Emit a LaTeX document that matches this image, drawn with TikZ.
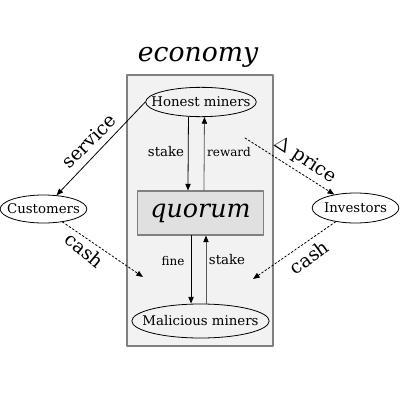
\documentclass[tikz,border=0pt]{standalone}
\usepackage{fontspec}
\setmainfont{DejaVu Serif}
\usetikzlibrary{arrows.meta}
\usetikzlibrary{shapes.geometric}
\definecolor{econfill}{HTML}{F2F2F2}
\definecolor{quorumfill}{HTML}{E0E0E0}
\definecolor{frame}{HTML}{808080}
\begin{document}
\begin{tikzpicture}[line cap=round,line join=round, x=0.75pt,y=-0.75pt,
  actor/.style={ellipse, draw=black, line width=0.6pt, inner sep=0pt, font=\fontsize{10}{12}\selectfont},
  flow/.style={line width=0.6pt, -{Triangle[length=5pt, width=4pt]}},
  backflow/.style={line width=0.6pt, draw=black!65, -{Triangle[length=5pt, width=4pt, color=black]}},
  money/.style={line width=0.6pt, dash pattern=on 1.5pt off 1.5pt, -{Triangle[length=5pt, width=4pt]}},
  bigword/.style={font=\fontsize{14}{16}\selectfont}]
\useasboundingbox (0,0) rectangle (400,400);
\draw [draw=frame, fill=econfill, line width=0.8pt] (127,75) rectangle (273,346);
\node (econ) at (198,57) {\fontsize{20}{24}\selectfont\itshape economy};
\node [rectangle, draw=frame, fill=quorumfill, line width=0.8pt, minimum width=95pt, minimum height=33pt, inner sep=0pt] (quorum) at (200.5,213) {\fontsize{19}{22}\selectfont\itshape quorum};
\node [actor, fill=econfill, minimum width=83pt, minimum height=22pt] (honest) at (201,102) {\makebox[0pt]{Honest miners}};
\node [actor, fill=econfill, minimum width=103pt, minimum height=25.5pt] (malicious) at (200.5,321) {\makebox[0pt]{Malicious miners}};
\node [actor, fill=white, minimum width=65pt, minimum height=21pt] (customers) at (43.5,209) {\makebox[0pt]{Customers}};
\node [actor, fill=white, minimum width=65pt, minimum height=22.5pt] (investors) at (355.5,208) {\makebox[0pt]{Investors}};
\coordinate (pricefrom) at (245,138);
\coordinate (cashleft) at (143,277);
\coordinate (cashright) at (253,279);
% miners and quorum
\draw [flow] ([xshift=-9.4pt]honest.south) -- ([xshift=-9.4pt]quorum.north);
\draw [backflow] ([xshift=2.6pt]quorum.north) -- ([xshift=2.6pt]honest.south);
\draw [flow] ([xshift=-7.1pt]quorum.south) -- ([xshift=-7.1pt]malicious.north);
\draw [backflow] ([xshift=4.1pt]malicious.north) -- ([xshift=4.1pt]quorum.south);
\node at (166,152) {\fontsize{10}{12}\selectfont stake};
\node at (229,152) {\fontsize{9}{11}\selectfont reward};
\node at (173,261) {\fontsize{9}{11}\selectfont fine};
\node at (227,260) {\fontsize{10}{12}\selectfont stake};
% outside the economy
\draw [flow] (honest.west) -- (customers);
\draw [money] (pricefrom) -- (investors);
\draw [money] (customers) -- (cashleft);
\draw [money] (investors) -- (cashright);
\node [bigword, rotate=45] at (89,141) {service};
\node [bigword, rotate=-33] at (305,160) {$\Delta$ price};
\node [bigword, rotate=-40] at (85,250) {cash};
\node [bigword, rotate=36] at (309,257) {cash};
\end{tikzpicture}
\end{document}
